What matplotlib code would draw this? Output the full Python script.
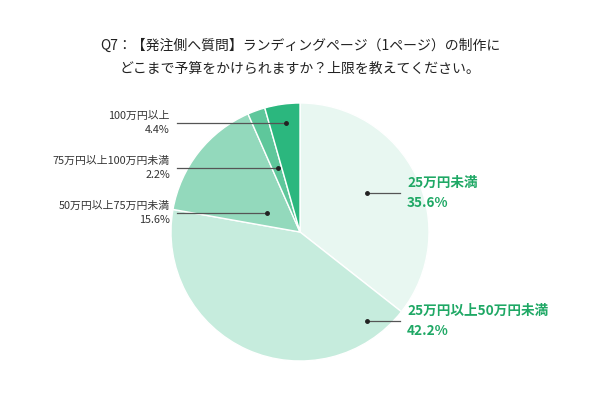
import matplotlib
matplotlib.use("Agg")
import matplotlib.pyplot as plt

plt.rcParams['font.family'] = ['Noto Sans CJK JP', 'DejaVu Sans']

categories = ["25万円未満", "25万円以上50万円未満", "50万円以上75万円未満", "75万円以上100万円未満", "100万円以上"]
values = [35.6, 42.2, 15.6, 2.2, 4.4]
colors = ["#e8f7f1", "#c6ecdd", "#93d9bc", "#5ec79b", "#2bb77e"]
title = "Q7：【発注側へ質問】ランディングページ（1ページ）の制作に\nどこまで予算をかけられますか？上限を教えてください。"

W, H = 600, 395
fig = plt.figure(figsize=(W / 100, H / 100), dpi=100)
fig.patch.set_facecolor("white")

cx, cy, R = 300, 232, 129
ax = fig.add_axes([(cx - R) / W, (H - cy - R) / H, 2 * R / W, 2 * R / H])
ax.pie(values, colors=colors, startangle=90, counterclock=False,
       wedgeprops=dict(edgecolor="white", linewidth=1.0), radius=1)
ax.set_xlim(-1, 1)
ax.set_ylim(-1, 1)
ax.set_aspect("equal")
ax.axis("off")

fig.text(0.5, 1 - 57 / H, title, ha="center", va="center", fontsize=10.0,
         color="#222222", linespacing=1.85)

def px(x, y):
    return x / W, 1 - y / H

# layout: (dot_x, dot_y, line_end_x, text_x, side)
layout = {
    4: (286, 123, 177, 170, "left"),
    3: (278, 168, 177, 170, "left"),
    2: (267, 213, 177, 170, "left"),
    0: (367, 193, 400, 407, "right"),
    1: (367, 321, 400, 407, "right"),
}
for i, (dx, dy, lx, tx, side) in layout.items():
    fig.add_artist(plt.Line2D([dx / W, lx / W], [1 - dy / H, 1 - dy / H],
                              color="#555555", lw=0.9, transform=fig.transFigure))
    fig.add_artist(plt.Line2D([dx / W], [1 - dy / H], marker="o", ms=2.5,
                              color="#222222", transform=fig.transFigure))
    label = f"{categories[i]}\n{values[i]:.1f}%"
    if side == "left":
        fig.text(*px(tx, dy), label, ha="right", va="center", fontsize=7.8,
                 color="#333333", linespacing=1.5)
    else:
        fig.text(*px(tx, dy), label, ha="left", va="center", fontsize=9.8,
                 color="#1fa865", fontweight="bold", linespacing=1.6)

fig.savefig("out.png", dpi=100, facecolor="white")
